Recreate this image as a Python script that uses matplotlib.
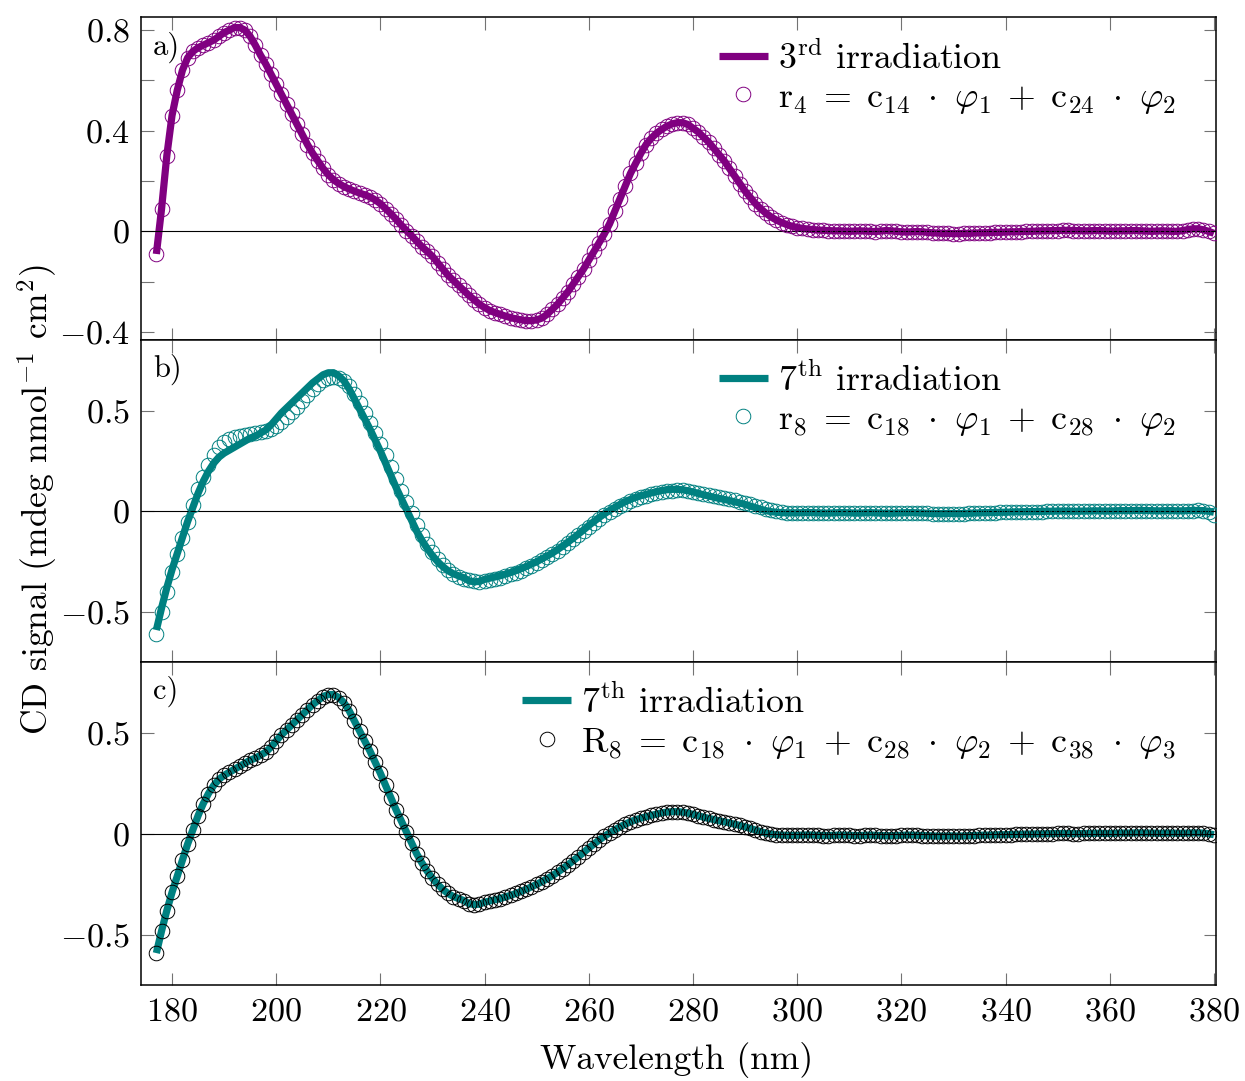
import matplotlib.pyplot as plt
import numpy as np
from matplotlib.lines import Line2D
from matplotlib.ticker import FixedLocator, FuncFormatter

plt.rcParams["font.family"] = "serif"
plt.rcParams["font.serif"] = ["cmr10", "DejaVu Serif"]
plt.rcParams["mathtext.fontset"] = "cm"
plt.rcParams["axes.formatter.use_mathtext"] = True

PURPLE = "#800080"
TEAL = "#008080"

# wavelength grid of the spectra (nm), 1 nm steps from 177 to 380
wavelength = np.arange(177, 381)

# a) measured CD spectrum after the 3rd irradiation
irr3 = [
    -0.09, 0.09, 0.30, 0.46, 0.56, 0.64, 0.69, 0.715, 0.73, 0.74,
    0.75, 0.76, 0.775, 0.79, 0.80, 0.81, 0.81, 0.80, 0.775, 0.74,
    0.70, 0.665, 0.625, 0.585, 0.545, 0.505, 0.465, 0.425, 0.385, 0.345,
    0.31, 0.28, 0.25, 0.225, 0.205, 0.19, 0.178, 0.168, 0.16, 0.152,
    0.145, 0.137, 0.125, 0.11, 0.09, 0.07, 0.048, 0.025, 0.003, -0.018,
    -0.04, -0.062, -0.08, -0.10, -0.125, -0.15, -0.175, -0.195, -0.215, -0.235,
    -0.255, -0.272, -0.29, -0.303, -0.315, -0.323, -0.33, -0.337, -0.343, -0.348,
    -0.352, -0.355, -0.355, -0.352, -0.345, -0.33, -0.31, -0.29, -0.265, -0.24,
    -0.21, -0.18, -0.15, -0.115, -0.08, -0.045, -0.01, 0.03, 0.08, 0.13,
    0.18, 0.23, 0.27, 0.31, 0.345, 0.37, 0.39, 0.405, 0.418, 0.427,
    0.432, 0.432, 0.425, 0.41, 0.395, 0.375, 0.355, 0.33, 0.305, 0.28,
    0.25, 0.22, 0.19, 0.16, 0.135, 0.11, 0.09, 0.072, 0.057, 0.045,
    0.035, 0.027, 0.02, 0.015, 0.012, 0.009, 0.007, 0.005, 0.004, 0.003,
    0.002, 0.002, 0.001, 0.0, 0.001, 0.002, 0.001, 0.0, -0.001, 0.001,
    0.003, 0.002, 0.0, -0.002, -0.003, -0.002, -0.001, -0.002, -0.004, -0.006,
    -0.007, -0.008, -0.008, -0.009, -0.009, -0.008, -0.008, -0.007, -0.006, -0.006,
    -0.005, -0.004, -0.004, -0.003, -0.002, -0.002, -0.001, 0.0, 0.0, 0.001,
    0.002, 0.002, 0.003, 0.003, 0.004, 0.004, 0.003, 0.003, 0.002, 0.002,
    0.003, 0.003, 0.002, 0.001, 0.001, 0.002, 0.002, 0.003, 0.003, 0.002,
    0.001, 0.0, 0.001, 0.002, 0.001, 0.0, 0.0, 0.003, 0.007, 0.01,
    0.01, 0.006, 0.0, -0.008,
]
# the two-component reconstruction r4 sits on top of the measurement
r4 = list(irr3)

# b), c) measured CD spectrum after the 7th irradiation
irr7 = [
    -0.59, -0.48, -0.38, -0.29, -0.21, -0.13, -0.05, 0.02, 0.09, 0.15,
    0.20, 0.24, 0.27, 0.29, 0.305, 0.32, 0.335, 0.35, 0.365, 0.375,
    0.39, 0.405, 0.43, 0.46, 0.49, 0.515, 0.54, 0.565, 0.59, 0.615,
    0.64, 0.66, 0.68, 0.69, 0.69, 0.675, 0.65, 0.61, 0.56, 0.51,
    0.46, 0.41, 0.355, 0.30, 0.24, 0.18, 0.12, 0.065, 0.01, -0.045,
    -0.10, -0.145, -0.185, -0.22, -0.25, -0.275, -0.295, -0.31, -0.32, -0.33,
    -0.345, -0.35, -0.348, -0.338, -0.332, -0.326, -0.32, -0.312, -0.304, -0.295,
    -0.285, -0.274, -0.262, -0.25, -0.236, -0.222, -0.207, -0.19, -0.172, -0.153,
    -0.133, -0.113, -0.092, -0.07, -0.05, -0.03, -0.012, 0.005, 0.02, 0.035,
    0.048, 0.06, 0.07, 0.078, 0.085, 0.092, 0.098, 0.104, 0.108, 0.11,
    0.11, 0.108, 0.103, 0.097, 0.09, 0.083, 0.077, 0.071, 0.065, 0.06,
    0.054, 0.048, 0.042, 0.035, 0.027, 0.019, 0.011, 0.004, -0.001, -0.004,
    -0.006, -0.007, -0.007, -0.007, -0.006, -0.005, -0.006, -0.007, -0.008, -0.008,
    -0.007, -0.006, -0.006, -0.007, -0.008, -0.008, -0.007, -0.006, -0.007, -0.008,
    -0.009, -0.009, -0.008, -0.007, -0.006, -0.006, -0.007, -0.008, -0.009, -0.010,
    -0.011, -0.011, -0.010, -0.010, -0.011, -0.010, -0.009, -0.008, -0.007, -0.006,
    -0.006, -0.005, -0.004, -0.004, -0.003, -0.002, -0.002, -0.001, -0.001, 0.0,
    0.0, 0.001, 0.001, 0.002, 0.002, 0.002, 0.001, 0.001, 0.002, 0.002,
    0.003, 0.003, 0.002, 0.002, 0.003, 0.004, 0.004, 0.004, 0.005, 0.005,
    0.004, 0.004, 0.003, 0.003, 0.004, 0.004, 0.003, 0.003, 0.004, 0.005,
    0.005, 0.004, 0.001, -0.004,
]

# b) two-component reconstruction r8
r8 = [
    -0.61, -0.50, -0.40, -0.30, -0.21, -0.13, -0.05, 0.03, 0.11, 0.17,
    0.23, 0.28, 0.32, 0.345, 0.36, 0.37, 0.375, 0.38, 0.385, 0.39,
    0.395, 0.40, 0.41, 0.425, 0.445, 0.47, 0.495, 0.52, 0.55, 0.58,
    0.61, 0.635, 0.655, 0.665, 0.67, 0.665, 0.65, 0.625, 0.585, 0.54,
    0.49, 0.44, 0.39, 0.335, 0.28, 0.22, 0.16, 0.10, 0.045, -0.01,
    -0.065, -0.115, -0.16, -0.20, -0.235, -0.265, -0.29, -0.31, -0.325, -0.335,
    -0.343, -0.348, -0.35, -0.348, -0.343, -0.337, -0.33, -0.322, -0.313, -0.304,
    -0.294, -0.283, -0.271, -0.258, -0.244, -0.229, -0.213, -0.196, -0.178, -0.159,
    -0.139, -0.118, -0.097, -0.076, -0.056, -0.037, -0.019, -0.003, 0.012, 0.026,
    0.039, 0.051, 0.062, 0.071, 0.079, 0.086, 0.092, 0.097, 0.101, 0.104,
    0.105, 0.105, 0.103, 0.099, 0.094, 0.088, 0.082, 0.076, 0.07, 0.065,
    0.06, 0.055, 0.049, 0.043, 0.036, 0.028, 0.02, 0.012, 0.005, 0.0,
    -0.004, -0.006, -0.007, -0.008, -0.008, -0.007, -0.007, -0.008, -0.009, -0.009,
    -0.008, -0.007, -0.007, -0.008, -0.009, -0.009, -0.008, -0.007, -0.008, -0.009,
    -0.010, -0.010, -0.009, -0.008, -0.007, -0.007, -0.008, -0.009, -0.010, -0.011,
    -0.012, -0.012, -0.011, -0.011, -0.012, -0.011, -0.010, -0.009, -0.008, -0.007,
    -0.007, -0.006, -0.005, -0.005, -0.004, -0.003, -0.003, -0.002, -0.002, -0.001,
    -0.001, 0.0, 0.0, 0.001, 0.001, 0.001, 0.0, 0.0, 0.001, 0.001,
    0.002, 0.002, 0.001, 0.001, 0.002, 0.003, 0.003, 0.003, 0.004, 0.004,
    0.003, 0.003, 0.002, 0.002, 0.003, 0.003, 0.002, 0.002, 0.003, 0.004,
    0.005, 0.003, -0.003, -0.018,
]
# c) three-component reconstruction R8 follows the measurement
R8 = list(irr7)

x_ticks = [180, 200, 220, 240, 260, 280, 300, 320, 340, 360, 380]
yticks_a = [0.8, 0.6, 0.4, 0.2, 0.0, -0.2, -0.4]
ylabels_a = [0.8, 0.4, 0.0, -0.4]
yticks_bc = [0.5, 0.0, -0.5]

FIG_W, FIG_H = 1245, 1081
XLIM = (174.05, 380.4)


def _rect(top_px, bottom_px):
    return [141 / FIG_W, 1 - bottom_px / FIG_H, 1075 / FIG_W, (bottom_px - top_px) / FIG_H]


def _fmt(shown):
    def f(v, pos):
        if not any(abs(v - s) < 1e-9 for s in shown):
            return ""
        return "$%g$" % (0 if abs(v) < 1e-9 else v)
    return FuncFormatter(f)


def draw_panel(ax, y_line, y_mark, line_color, mark_color, labels, tag, ylim, yticks, ylabels):
    ax.plot(wavelength, y_line, color=line_color, lw=5.2, solid_capstyle="butt", zorder=2)
    ax.axhline(0.0, color="black", lw=0.8, zorder=2.5)
    ax.plot(wavelength, y_mark, ls="none", marker="o", ms=10.5, mfc="none",
            mec=mark_color, mew=0.7, zorder=3)
    ax.set_xlim(*XLIM)
    ax.set_ylim(*ylim)
    ax.xaxis.set_major_locator(FixedLocator(x_ticks))
    ax.yaxis.set_major_locator(FixedLocator(yticks))
    ax.yaxis.set_major_formatter(_fmt(ylabels))
    ax.tick_params(direction="in", top=True, right=True, length=9, width=0.8,
                   color="0.45", labelsize=24.5, pad=8)
    ax.tick_params(axis="x", pad=9)
    for s in ax.spines.values():
        s.set_linewidth(1.1)
    ax.text(0.011, 0.905 if tag == "a)" else 0.91, tag, transform=ax.transAxes,
            ha="left", va="center", fontsize=22)
    handles = [
        Line2D([], [], color=line_color, lw=5.2, solid_capstyle="butt"),
        Line2D([], [], ls="none", marker="o", ms=10.5, mfc="none", mec=mark_color, mew=0.7),
    ]
    ax.legend(handles, labels, loc="upper right", bbox_to_anchor=(0.963, 0.93),
              frameon=False, fontsize=25.8, handlelength=1.35, handletextpad=0.3,
              labelspacing=0.17, borderpad=0, borderaxespad=0)


fig = plt.figure(figsize=(FIG_W / 100, FIG_H / 100), dpi=100)
ax_a = fig.add_axes(_rect(17, 340))
ax_b = fig.add_axes(_rect(340, 662))
ax_c = fig.add_axes(_rect(662, 985))

DOT = r"\ \cdot\ "
draw_panel(ax_a, irr3, r4, PURPLE, PURPLE,
           [r"3$^{\mathrm{rd}}$ irradiation",
            r"$\mathrm{r}_4\;=\;\mathrm{c}_{14}" + DOT + r"\varphi_1\;+\;\mathrm{c}_{24}" + DOT + r"\varphi_2$"],
           "a)", (-0.432, 0.852), yticks_a, ylabels_a)
draw_panel(ax_b, irr7, r8, TEAL, TEAL,
           [r"7$^{\mathrm{th}}$ irradiation",
            r"$\mathrm{r}_8\;=\;\mathrm{c}_{18}" + DOT + r"\varphi_1\;+\;\mathrm{c}_{28}" + DOT + r"\varphi_2$"],
           "b)", (-0.749, 0.853), yticks_bc, yticks_bc)
draw_panel(ax_c, irr7, R8, TEAL, "black",
           [r"7$^{\mathrm{th}}$ irradiation",
            r"$\mathrm{R}_8\;=\;\mathrm{c}_{18}" + DOT + r"\varphi_1\;+\;\mathrm{c}_{28}" + DOT
            + r"\varphi_2\;+\;\mathrm{c}_{38}" + DOT + r"\varphi_3$"],
           "c)", (-0.748, 0.851), yticks_bc, yticks_bc)

for ax in (ax_a, ax_b):
    ax.tick_params(labelbottom=False)

fig.text(677 / FIG_W, 1 - 1060 / FIG_H, "Wavelength (nm)", ha="center", va="center", fontsize=25.5)
fig.text(37 / FIG_W, 1 - 500 / FIG_H, r"CD signal (mdeg nmol$^{\mathrm{-1}}$ cm$^{2}$)",
         ha="center", va="center", rotation=90, fontsize=25.5)

fig.savefig("out.png", dpi=100)
plt.close(fig)
